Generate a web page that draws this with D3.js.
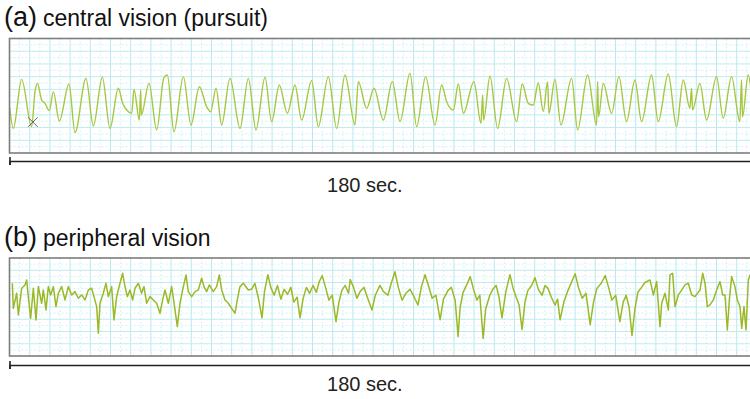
<!DOCTYPE html>
<html>
<head>
<meta charset="utf-8">
<script src="https://cdn.jsdelivr.net/npm/d3@7"></script>
<style>
  body { margin: 0; background: #fff; }
  svg { display: block; font-family: "Liberation Sans", Arial, sans-serif; }
</style>
</head>
<body>
<svg id="chart" width="750" height="399"></svg>
<script>
// eye position traces, 0..180 sec, amplitude in arbitrary units (0 = box bottom, 100 = box top)
const centralT = [
  0, 0.92, 2.91, 5.30, 6.10, 6.66, 7.69, 8.49, 9.53, 10.48,
  11.92, 14.23, 15.67, 18.30, 20.05, 22.21, 24.04, 26.03, 27.07, 28.02,
  29.22, 29.78, 31.06, 31.37, 31.53, 33.37, 35.20, 36.96, 37.75, 39.35,
  41.58, 43.41, 45.41, 47.16, 48.12, 49.40, 50.75, 52.74, 55.14, 57.13,
  58.96, 61.12, 62.71, 64.54, 66.46, 68.29, 69.88, 72.28, 73.87, 76.26,
  78.26, 80.25, 82.64, 83.44, 85.43, 87.20, 89.42, 91.57, 93.41, 95.80,
  97.39, 99.54, 101.78, 103.37, 104.57, 106.16, 107.36, 108.56, 111.10, 112.78,
  113.17, 113.41, 114.93, 116.76, 118.91, 121.30, 122.66, 124.09, 125.29, 126.48,
  127.68, 128.71, 129.03, 130.47, 131.90, 134.45, 135.89, 138.28, 140.43, 140.67,
  140.91, 142.03, 144.02, 145.77, 147.60, 149.60, 151.19, 153.58, 155.18, 157.57,
  159.56, 161.16, 162.75, 163.15, 163.39, 165.14, 166.74, 169.13, 170.72, 172.71,
  174.70, 175.10, 175.34, 176.70, 178.50, 180
];
const centralV = [
  40.5, 21.5, 64.3, 23.0, 53.6, 60.8, 46.3, 43.4, 37.0, 53.6,
  27.9, 60.2, 17.8, 65.2, 23.6, 66.1, 21.5, 56.5, 43.4, 37.5,
  34.6, 55.6, 28.8, 55.0, 33.2, 60.8, 20.1, 66.1, 68.1, 18.6,
  66.7, 24.5, 57.9, 40.5, 36.1, 56.5, 24.5, 65.2, 21.5, 65.2,
  20.1, 66.1, 27.4, 59.4, 34.6, 59.4, 28.8, 63.2, 23.0, 66.7,
  21.5, 68.1, 24.5, 62.3, 39.0, 56.5, 28.8, 62.3, 27.4, 69.6,
  23.0, 66.7, 24.5, 59.4, 44.8, 37.5, 60.2, 34.6, 62.3, 25.9,
  50.6, 28.8, 67.2, 21.5, 65.2, 27.4, 60.2, 43.4, 41.9, 61.4,
  36.1, 62.3, 34.6, 64.3, 24.5, 65.2, 20.1, 68.1, 24.5, 62.3,
  31.7, 60.8, 34.6, 66.7, 27.4, 63.7, 27.4, 68.1, 27.4, 69.0,
  23.0, 63.7, 39.0, 56.5, 37.5, 60.8, 28.8, 66.7, 30.3, 66.7,
  27.4, 63.7, 31.7, 68.1, 25.0, 50.0
];

const peripheralT = [
  0.68, 0.92, 1.71, 2.11, 2.91, 3.71, 4.11, 4.50, 5.06, 5.70,
  6.34, 6.90, 7.69, 8.09, 8.73, 9.29, 9.85, 10.48, 11.12, 11.68,
  12.48, 13.28, 14.07, 14.87, 15.67, 16.46, 17.26, 18.06, 18.86, 19.65,
  20.21, 20.85, 21.25, 21.65, 22.44, 23.08, 23.64, 24.44, 24.99, 25.63,
  26.43, 27.07, 27.63, 28.19, 28.82, 29.46, 30.02, 30.82, 31.61, 32.17,
  32.81, 33.60, 34.40, 35.20, 36.00, 36.63, 37.19, 37.99, 38.79, 39.59,
  40.14, 40.78, 41.42, 42.22, 42.77, 43.57, 44.37, 45.17, 45.96, 46.52,
  47.16, 47.80, 48.75, 49.55, 50.19, 50.75, 51.55, 52.34, 53.14, 53.94,
  54.49, 55.13, 55.93, 57.13, 57.9, 58.7, 59.5, 60.4, 61.0, 61.8,
  62.5, 63.3, 64.1, 64.9, 65.7, 66.5, 67.3, 68.0, 68.8, 69.5,
  70.2, 71.0, 71.8, 72.6, 73.4, 74.1, 74.8, 75.6, 76.4, 77.2,
  78.1, 78.8, 79.5, 80.3, 81.1, 81.5, 82.3, 83.1, 83.9, 84.8,
  85.6, 86.7, 87.5, 88.6, 89.4, 90.5, 91.3, 92.2, 93.0, 93.9,
  94.8, 95.8, 96.7, 97.7, 98.5, 99.4, 100.2, 101.1, 102.0, 103.0,
  103.8, 104.9, 105.7, 106.6, 107.3, 107.8, 108.5, 109.3, 110.2, 111.0,
  111.8, 112.5, 113.3, 113.9, 114.9, 115.6, 116.4, 117.1, 117.8, 118.7,
  119.7, 120.4, 121.2, 121.9, 122.6, 123.3, 124.0, 124.9, 125.7, 126.5,
  127.4, 128.1, 128.8, 129.6, 130.5, 131.1, 131.7, 132.6, 133.6, 134.4,
  135.3, 136.1, 137.0, 137.9, 138.9, 139.7, 140.5, 141.5, 142.5, 143.3,
  144.1, 145.0, 146.0, 146.8, 147.5, 148.2, 148.9, 149.6, 150.3, 151.2,
  152.0, 153.21, 154.01, 154.80, 155.60, 156.00, 156.80, 157.60, 157.99, 158.63,
  159.19, 159.99, 160.78, 161.58, 162.38, 163.18, 163.97, 165.17, 165.81, 166.37,
  166.92, 167.56, 168.36, 169.16, 169.95, 170.59, 171.15, 171.71, 172.19, 172.74,
  173.54, 174.10, 174.74, 175.14, 175.69, 176.17, 176.73, 177.13, 178.50, 180
];
const peripheralV = [
  74.2, 48.6, 64.0, 41.9, 69.1, 72.5, 77.6, 60.6, 38.5, 69.1,
  36.8, 70.8, 53.8, 67.4, 47.0, 70.8, 62.3, 70.8, 50.4, 64.0,
  70.8, 57.2, 70.8, 62.3, 65.7, 58.9, 62.3, 57.2, 67.4, 69.1,
  60.6, 50.4, 23.2, 53.8, 64.0, 74.2, 60.6, 70.8, 36.8, 60.6,
  74.2, 84.4, 70.8, 60.6, 67.4, 57.2, 69.1, 74.2, 64.0, 70.8,
  53.8, 60.6, 57.2, 53.8, 43.6, 57.2, 67.4, 53.8, 70.8, 47.0,
  30.0, 53.8, 67.4, 82.7, 65.7, 60.6, 65.7, 67.4, 79.3, 70.8,
  65.7, 72.5, 65.7, 70.8, 82.7, 67.4, 57.2, 53.8, 48.6, 43.6,
  57.2, 70.8, 74.2, 67.4, 68, 74, 60, 39, 66, 83,
  70, 62, 72, 58, 68, 63, 70, 55, 60, 39,
  58, 70, 64, 72, 65, 76, 82, 70, 57, 62,
  35, 55, 67, 72, 64, 78, 70, 59, 66, 70,
  60, 47, 62, 72, 66, 62, 74, 86, 70, 57,
  64, 68, 61, 52, 70, 83, 72, 59, 62, 37,
  58, 67, 70, 57, 20, 50, 65, 72, 81, 68,
  57, 62, 18, 48, 62, 68, 72, 60, 39, 65,
  83, 70, 60, 52, 27, 55, 67, 72, 80, 68,
  62, 72, 69, 60, 52, 58, 37, 55, 67, 75,
  84, 70, 59, 64, 32, 55, 69, 74, 82, 70,
  57, 62, 35, 55, 62, 50, 21, 48, 65, 70,
  75, 77.6, 62.3, 75.9, 29.9, 53.8, 64.0, 47.0, 82.7, 84.4,
  50.4, 62.3, 67.3, 72.5, 74.2, 62.3, 60.6, 67.3, 84.4, 74.2,
  50.4, 52.1, 57.2, 67.3, 75.9, 62.3, 62.3, 26.5, 57.2, 81.0,
  70.8, 57.2, 50.4, 28.2, 50.4, 26.5, 77.6, 82.7, 60.0, 65.0
];

// cursor mark in panel (a)
const markT = 5.6, markV = 27;

const panels = [
  {id: 'a', tag: '(a)', title: 'central vision (pursuit)', t: centralT, v: centralV,
   top: 38.5, bottom: 153, axisY: 161, labelY: 192, titleY: 26,
   color: '#a8c640', width: 1.4, curve: d3.curveMonotoneX},
  {id: 'b', tag: '(b)', title: 'peripheral vision', t: peripheralT, v: peripheralV,
   top: 258, bottom: 356, axisY: 365, labelY: 391, titleY: 246,
   color: '#9cb826', width: 1.5, curve: d3.curveLinear}
];

const spanLabel = '180 sec.';
const labelT = 85;

const svg = d3.select('#chart');
const boxLeft = 9.5, boxRight = 762;

let x = d3.scaleLinear().domain([0, 180]).range([boxLeft, boxRight]);

panels.forEach(p => {
  let y = d3.scaleLinear().domain([0, 100]).range([p.bottom, p.top]);
  let g = svg.append('g').attr('class', `panel-${p.id}`);

  // chart paper grid
  let grid = g.append('g').attr('class', 'grid');
  let vStep = 10.1, hStep = (p.bottom - p.top) / (p.id === 'a' ? 18 : 16);
  d3.range(boxLeft + vStep, boxRight, vStep).forEach((gx, i) => {
    grid.append('line')
      .attr('x1', gx).attr('x2', gx).attr('y1', p.top).attr('y2', p.bottom)
      .attr('stroke', i % 2 ? '#b9e9ef' : '#d2f2f5')
      .attr('stroke-dasharray', i % 2 ? null : '2,2');
  });
  d3.range(p.top + hStep, p.bottom - 1, hStep).forEach((gy, i) => {
    grid.append('line')
      .attr('x1', boxLeft).attr('x2', boxRight).attr('y1', gy).attr('y2', gy)
      .attr('stroke', i % 2 ? '#bfebf0' : '#d2f2f5')
      .attr('stroke-dasharray', i % 2 ? null : '2,2');
  });

  g.append('clipPath').attr('id', `clip-${p.id}`)
    .append('rect')
    .attr('x', boxLeft).attr('y', p.top)
    .attr('width', boxRight - boxLeft).attr('height', p.bottom - p.top);

  let line = d3.line()
    .x(i => x(p.t[i]))
    .y(i => y(p.v[i]))
    .curve(p.curve);

  g.append('path')
    .attr('class', 'trace')
    .attr('clip-path', `url(#clip-${p.id})`)
    .attr('d', line(d3.range(p.t.length)))
    .attr('fill', 'none')
    .attr('stroke', p.color)
    .attr('stroke-width', p.width)
    .attr('stroke-linejoin', 'round');

  if (p.id === 'a') {
    g.append('path')
      .attr('d', d3.symbol(d3.symbolX, 60)())
      .attr('transform', `translate(${x(markT)},${y(markV)})`)
      .attr('fill', 'none')
      .attr('stroke', '#666')
      .attr('stroke-width', 1);
  }

  // frame
  g.append('rect')
    .attr('x', boxLeft).attr('y', p.top)
    .attr('width', boxRight - boxLeft).attr('height', p.bottom - p.top)
    .attr('fill', 'none')
    .attr('stroke', '#7d7d7d')
    .attr('stroke-width', 1.6);

  // span axis
  let axis = g.append('g')
    .attr('transform', `translate(0,${p.axisY})`)
    .call(d3.axisBottom(x).tickValues([0]).tickSizeOuter(0).tickSize(4));
  axis.select('.domain').attr('stroke', '#222').attr('stroke-width', 1.6);
  axis.selectAll('.tick line').attr('y1', -4).attr('y2', 4)
    .attr('stroke', '#222').attr('stroke-width', 1.6);
  axis.selectAll('.tick text').remove();

  g.append('text')
    .attr('x', x(labelT)).attr('y', p.labelY)
    .attr('text-anchor', 'middle')
    .attr('font-size', 20)
    .attr('fill', '#222')
    .text(spanLabel);

  // title
  let title = g.append('text').attr('x', 4).attr('y', p.titleY).attr('fill', '#111');
  title.append('tspan').attr('font-size', 27).text(p.tag);
  title.append('tspan').attr('dx', 6).attr('font-size', 23).text(p.title);
});
</script>
</body>
</html>
